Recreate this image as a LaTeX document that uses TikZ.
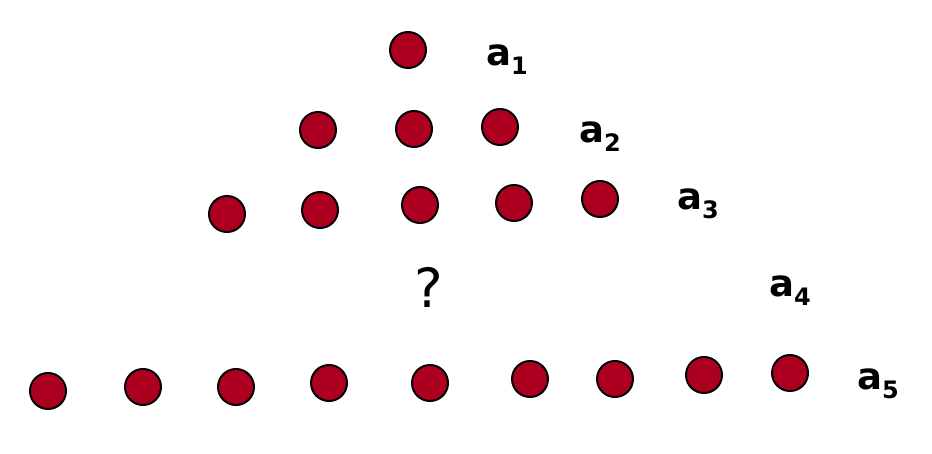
\documentclass[tikz,border=0pt]{standalone}
\usepackage{fontspec}
\setmainfont{DejaVu Sans}
\usetikzlibrary{positioning}
\definecolor{dotred}{HTML}{AD0021}
\newcommand{\idx}[1]{\raisebox{-9pt}{\fontsize{24}{24}\selectfont #1}}
\tikzset{
  dot/.style={circle, draw=black, line width=2pt, fill=dotred, minimum size=36pt, inner sep=0pt},
  lbl/.style={font=\fontsize{37}{40}\selectfont\bfseries, inner sep=0pt}}
\begin{document}
\begin{tikzpicture}[x=1pt, y=-1pt]
\useasboundingbox (0,0) rectangle (932,454);
% row 1
\node[dot] (r1a) at (408,50) {};
% row 2
\node[dot] (r2a) at (318,130) {};
\node[dot] (r2b) at (414,129) {};
\node[dot] (r2c) at (500,127) {};
% row 3
\node[dot] (r3a) at (227,214) {};
\node[dot] (r3b) at (320,210) {};
\node[dot] (r3c) at (420,205) {};
\node[dot] (r3d) at (514,203) {};
\node[dot] (r3e) at (600,199) {};
% row 5
\node[dot] (r5a) at (48,391) {};
\node[dot] (r5b) at (143,387) {};
\node[dot] (r5c) at (236,387) {};
\node[dot] (r5d) at (329,383) {};
\node[dot] (r5e) at (430,383) {};
\node[dot] (r5f) at (530,379) {};
\node[dot] (r5g) at (615,379) {};
\node[dot] (r5h) at (704,375) {};
\node[dot] (r5i) at (790,373) {};
% labels
\node[lbl, anchor=base west] (a1) at (486,66) {a\idx{1}};
\node[lbl, anchor=base west] (a2) at (579,143) {a\idx{2}};
\node[lbl, anchor=base west] (a3) at (677,210) {a\idx{3}};
\node[lbl, anchor=base west] (a4) at (769,297) {a\idx{4}};
\node[lbl, anchor=base west] (a5) at (857,389) {a\idx{5}};
\node[font=\fontsize{54}{56}\selectfont, inner sep=0pt, anchor=base] (q) at (429,308) {?};
\end{tikzpicture}
\end{document}
